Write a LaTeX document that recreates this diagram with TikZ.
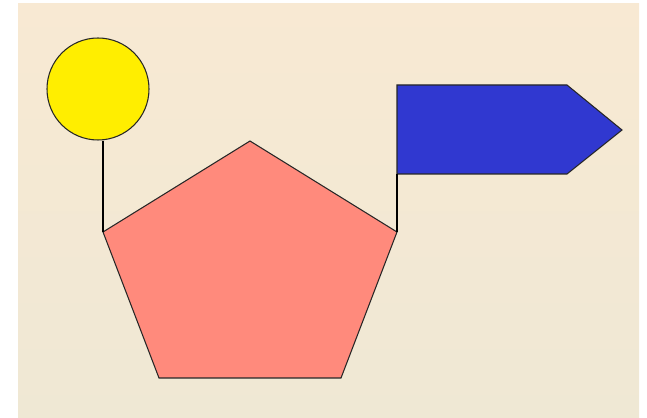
\documentclass[tikz,border=0pt]{standalone}
\usepackage{xcolor}

\definecolor{paneltop}{HTML}{F8E9D3}
\definecolor{panelbot}{HTML}{EFE8D4}
\definecolor{sunfill}{HTML}{FFEE00}
\definecolor{pentfill}{HTML}{FF8A7C}
\definecolor{flagfill}{HTML}{3038D0}

\tikzset{
  outline/.style={draw=black!85, line width=0.6pt, line join=miter},
  pole/.style={draw=black, line width=0.6pt},
}

\begin{document}
\begin{tikzpicture}[x=0.02cm, y=-0.02cm]

\useasboundingbox (0,0) rectangle (647,418);
\shade[top color=paneltop, bottom color=panelbot] (18,4) rectangle (639,418);

% pentagon
\coordinate (ptop) at (250,141);
\coordinate (pr) at (397,232);
\coordinate (pbr) at (341,378);
\coordinate (pbl) at (159,378);
\coordinate (pl) at (103,232);
\path[outline, fill=pentfill] (ptop) -- (pr) -- (pbr) -- (pbl) -- (pl) -- cycle;

% sun on its stick
\node[circle, outline, fill=sunfill, minimum size=102*0.02cm, inner sep=0pt] (sun) at (98,89) {};
\draw[pole] (sun.south -| pl) -- (pl);

% flag
\coordinate (ftl) at (397,85);
\coordinate (ftr) at (567,85);
\coordinate (ftip) at (622,130);
\coordinate (fbr) at (567,174);
\coordinate (fbl) at (397,174);
\path[outline, fill=flagfill] (ftl) -- (ftr) -- (ftip) -- (fbr) -- (fbl) -- cycle;
\draw[pole] (fbl) -- (pr);

\end{tikzpicture}
\end{document}
